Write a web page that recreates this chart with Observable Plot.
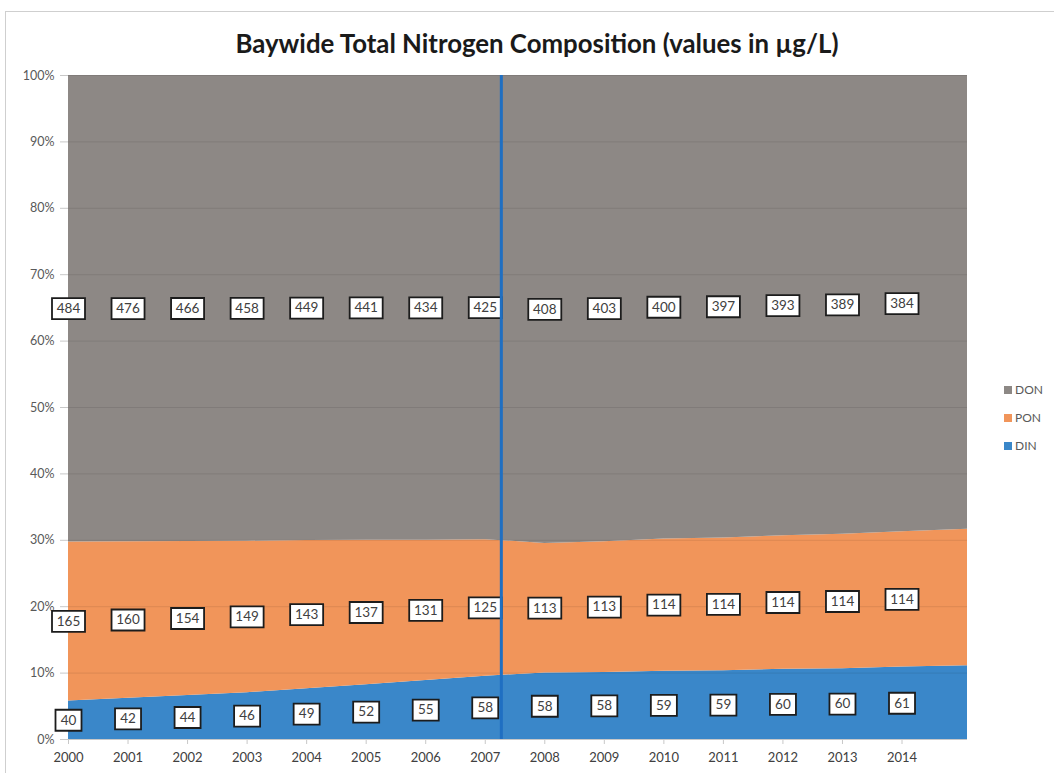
<!DOCTYPE html>
<html>
<head>
<meta charset="utf-8">
<script src="https://cdn.jsdelivr.net/npm/d3@7"></script>
<script src="https://cdn.jsdelivr.net/npm/@observablehq/plot@0.6"></script>
<style>
  html, body { margin: 0; padding: 0; background: #fff; }
  #wrap { position: relative; width: 1054px; height: 773px; overflow: hidden; font-family: Lato, "Open Sans", sans-serif; }
  #frame { position: absolute; left: 5px; top: 11px; right: -2px; bottom: -2px; border-top: 1px solid #cfcfcf; border-left: 1px solid #cfcfcf; }
  #title { position: absolute; left: 0; top: 28px; width: 1074px; text-align: center; font-family: Lato, "Open Sans", sans-serif; font-weight: bold; font-size: 25.8px; color: #1a1a1a; }
  #chart { position: absolute; left: 0; top: 60px; }
  #legend { position: absolute; left: 1004px; top: 382px; font-size: 12px; color: #595959; }
  #legend div { height: 28px; display: flex; align-items: flex-start; }
  #legend span.sw { display: inline-block; width: 8px; height: 8px; margin-right: 3px; margin-top: 4px; }
</style>
</head>
<body>
<div id="wrap">
  <div id="frame"></div>
  <div id="title">Baywide Total Nitrogen Composition (values in µg/L)</div>
  <div id="chart"></div>
  <div id="legend"></div>
</div>
<script>
// ---- data ----
const years = [2000, 2001, 2002, 2003, 2004, 2005, 2006, 2007, 2008, 2009, 2010, 2011, 2012, 2013, 2014];
const DIN = [40, 42, 44, 46, 49, 52, 55, 58, 58, 58, 59, 59, 60, 60, 61];
const PON = [165, 160, 154, 149, 143, 137, 131, 125, 113, 113, 114, 114, 114, 114, 114];
const DON = [484, 476, 466, 458, 449, 441, 434, 425, 408, 403, 400, 397, 393, 389, 384];
// unlabeled right-edge category (area continues to the plot edge)
const edgeYear = 2015.1;
const edgeValues = { DIN: 62, PON: 115, DON: 382 };
const seriesNames = ["DIN", "PON", "DON"];
const legendOrder = ["DON", "PON", "DIN"];
const colors = { DON: "#8d8885", PON: "#f1955a", DIN: "#3a87c9" };
const markerYear = 2007.27;
const yTicks = [0, 0.1, 0.2, 0.3, 0.4, 0.5, 0.6, 0.7, 0.8, 0.9, 1.0];

const seriesData = { DIN, PON, DON };
const rows = [];
years.forEach((yr, i) => {
  seriesNames.forEach(s => rows.push({ year: yr, series: s, value: seriesData[s][i] }));
});
const areaRows = rows.concat(seriesNames.map(s => ({ year: edgeYear, series: s, value: edgeValues[s] })));

// label rows: midpoint of each band in the normalized stack
const labelRows = [];
years.forEach((yr, i) => {
  const total = d3.sum(seriesNames, s => seriesData[s][i]);
  let cum = 0;
  seriesNames.forEach(s => {
    const v = seriesData[s][i];
    labelRows.push({ year: yr, series: s, value: v, mid: (cum + v / 2) / total });
    cum += v;
  });
});

const stackOpts = { x: "year", y: "value", z: "series", order: seriesNames, offset: "normalize" };

const boxWide = { draw(ctx) { ctx.rect(-16.5, -10.5, 33, 21); } };
const boxNarrow = { draw(ctx) { ctx.rect(-13, -10.5, 26, 21); } };

const plot = Plot.plot({
  width: 1054,
  height: 713,
  marginLeft: 68,
  marginRight: 87,
  marginTop: 15,
  marginBottom: 34,
  style: { fontFamily: "Lato, 'Open Sans', sans-serif", background: "transparent" },
  x: { domain: [2000, 2015.1], label: null },
  y: { domain: [0, 1], label: null },
  color: { domain: seriesNames, range: seriesNames.map(s => colors[s]) },
  marks: [
    Plot.areaY(areaRows, Plot.stackY({ ...stackOpts, fill: "series", curve: "linear" })),
    Plot.ruleY(yTicks.slice(1), { stroke: "#000", strokeOpacity: 0.09 }),
    Plot.ruleY([0], { stroke: "#c8c8c8" }),
    Plot.axisY({ ticks: yTicks, label: null, tickFormat: d => Math.round(d * 100) + "%", tickSize: 8, tickPadding: 6, stroke: "#c8c8c8", fill: "#595959", fontSize: 12.5 }),
    Plot.axisX({ ticks: years, label: null, tickFormat: d => String(d), tickSize: 5, tickPadding: 8, stroke: "#c8c8c8", fill: "#404040", fontSize: 13 }),
    Plot.dot(labelRows.filter(d => String(d.value).length >= 3), { x: "year", y: "mid", symbol: boxWide, r: 10, fill: "white", stroke: "#1c1c1c", strokeWidth: 1.8 }),
    Plot.dot(labelRows.filter(d => String(d.value).length < 3), { x: "year", y: "mid", symbol: boxNarrow, r: 10, fill: "white", stroke: "#1c1c1c", strokeWidth: 1.8 }),
    Plot.text(labelRows, { x: "year", y: "mid", text: d => String(d.value), fill: "#404040", fontSize: 13.5 }),
    Plot.ruleX([markerYear], { stroke: "#1f6fc2", strokeWidth: 3 })
  ]
});
document.getElementById("chart").appendChild(plot);

const legend = document.getElementById("legend");
legendOrder.forEach(s => {
  const row = document.createElement("div");
  const sw = document.createElement("span");
  sw.className = "sw";
  sw.style.background = colors[s];
  row.appendChild(sw);
  row.appendChild(document.createTextNode(s));
  legend.appendChild(row);
});
</script>
</body>
</html>
